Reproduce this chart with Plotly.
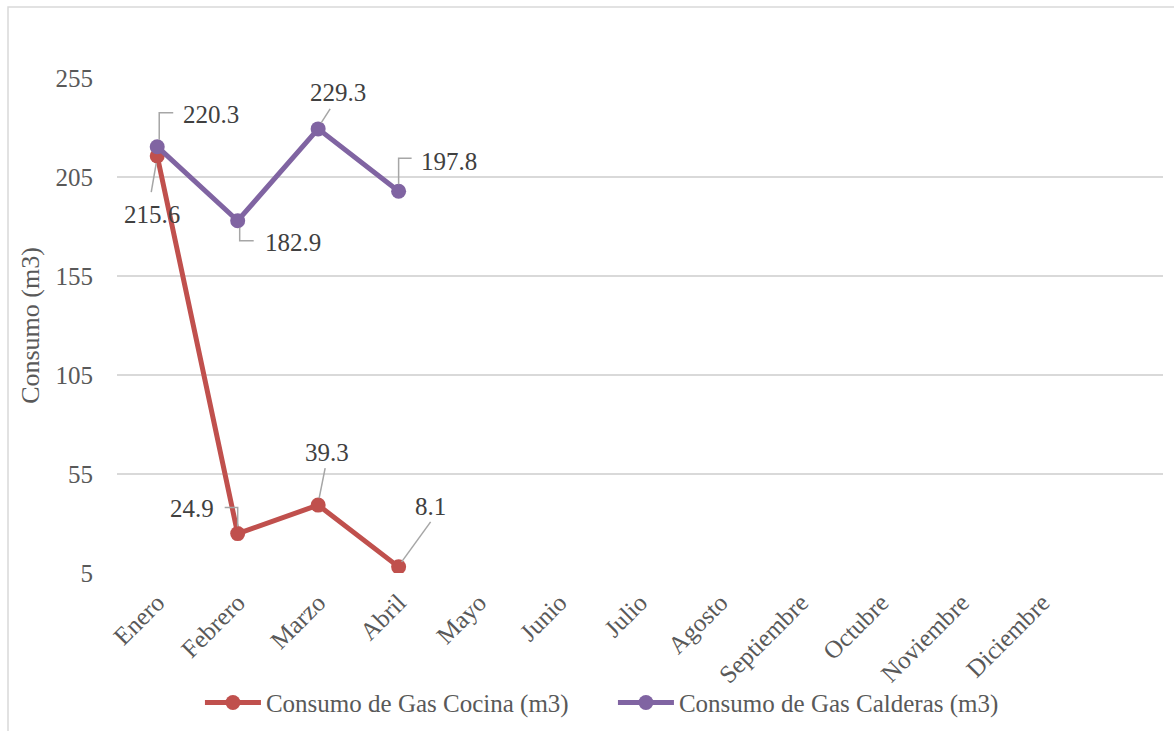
import plotly.graph_objects as go

# Monthly gas consumption (m3)
meses = ["Enero", "Febrero", "Marzo", "Abril", "Mayo", "Junio", "Julio",
         "Agosto", "Septiembre", "Octubre", "Noviembre", "Diciembre"]
cocina = [215.6, 24.9, 39.3, 8.1]
calderas = [220.3, 182.9, 229.3, 197.8]

y_ticks = [5, 55, 105, 155, 205, 255]

ROJO = "#C0504D"
MORADO = "#8064A2"
GRIS_LIDER = "#A6A6A6"
FUENTE = "Liberation Serif"

# label placement per point: (xshift, yshift, xanchor, leader-line path in px, +y up)
estilo_cocina = [
    (-5, -58, "center", "M-1,-7 L-6,-36"),
    (-22, 25, "right", "M0,7 L0,26 L-13,26"),
    (9, 53, "center", "M1,7 L7,37"),
    (32, 60, "center", "M3,5 L32,45"),
]
estilo_calderas = [
    (24, 32, "left", "M2,7 L2,34 L16,34"),
    (25, -22, "left", "M2,-7 L2,-20 L16,-20"),
    (20, 36, "center", "M3,6 L12,20"),
    (20, 30, "left", "M0,7 L0,33 L13,33"),
]

fig = go.Figure()
fig.add_trace(go.Scatter(
    x=meses[:len(cocina)], y=cocina, name="Consumo de Gas Cocina (m3)",
    mode="lines+markers", line=dict(color=ROJO, width=5),
    marker=dict(color=ROJO, size=15),
))
fig.add_trace(go.Scatter(
    x=meses[:len(calderas)], y=calderas, name="Consumo de Gas Calderas (m3)",
    mode="lines+markers", line=dict(color=MORADO, width=5),
    marker=dict(color=MORADO, size=15),
))

annotations = []
shapes = []
for serie, estilos in ((cocina, estilo_cocina), (calderas, estilo_calderas)):
    for mes, valor, (dx, dy, anc, ruta) in zip(meses, serie, estilos):
        annotations.append(dict(
            x=mes, y=valor, xref="x", yref="y", text=f"{valor:.1f}",
            showarrow=False, xshift=dx, yshift=dy, xanchor=anc, yanchor="middle",
            font=dict(family=FUENTE, size=25, color="#404040"),
        ))
        shapes.append(dict(
            type="path", xref="x", yref="y", xsizemode="pixel", ysizemode="pixel",
            xanchor=mes, yanchor=valor, path=ruta,
            line=dict(color=GRIS_LIDER, width=1.5), layer="above",
        ))

# outer chart border
shapes.append(dict(
    type="rect", xref="paper", yref="paper",
    x0=-0.1042, x1=1.03, y0=-0.34, y1=1.1434,
    line=dict(color="#D9D9D9", width=1.5), fillcolor="rgba(0,0,0,0)", layer="below",
))

fig.update_layout(
    width=1174, height=731,
    margin=dict(l=117, r=11, t=78, b=158, autoexpand=False),
    paper_bgcolor="white", plot_bgcolor="white",
    font=dict(family=FUENTE, size=25, color="#595959"),
    showlegend=True,
    legend=dict(
        orientation="h", x=0.0793, xanchor="left", y=-0.262, yanchor="middle",
        font=dict(family=FUENTE, size=25, color="#595959"),
        itemwidth=56, entrywidth=342, bgcolor="rgba(0,0,0,0)",
    ),
    annotations=annotations,
    shapes=shapes,
)
fig.update_xaxes(
    type="category", categoryorder="array", categoryarray=meses,
    range=[-0.5, 12.5], showgrid=False, showline=False, zeroline=False,
    tickangle=-45, ticks="", ticklabelstandoff=9, automargin=False,
    tickfont=dict(family=FUENTE, size=25, color="#595959"),
)
fig.update_yaxes(
    range=[5, 255], tickvals=y_ticks, showgrid=True, gridcolor="#D9D9D9",
    gridwidth=1.5, zeroline=False, showline=False, ticks="",
    ticklabelstandoff=23, automargin=False,
    tickfont=dict(family=FUENTE, size=25, color="#595959"),
    title=dict(text="Consumo (m3)", standoff=8,
               font=dict(family=FUENTE, size=26, color="#595959")),
)

fig.write_html("out.html")
